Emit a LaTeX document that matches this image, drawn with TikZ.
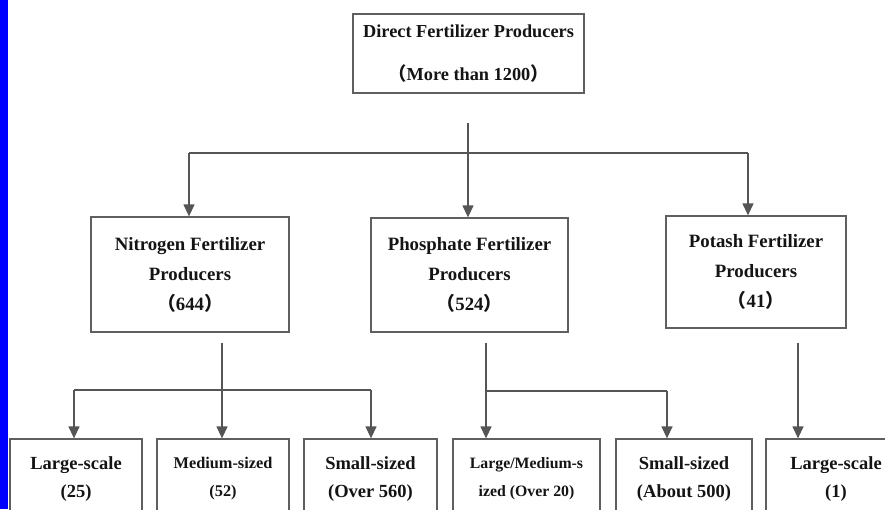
\documentclass[tikz,border=0pt]{standalone}
\usepackage{fontspec}
\setmainfont{Liberation Serif}
\newfontfamily\cjk{Noto Sans CJK SC}
\usetikzlibrary{arrows.meta}
\definecolor{boxc}{RGB}{95,95,95}
\definecolor{linec}{RGB}{85,85,85}
\definecolor{txtc}{RGB}{20,20,20}
\definecolor{stripc}{RGB}{0,0,255}
\tikzset{
  box/.style={draw=boxc, line width=1.3pt, rectangle, inner sep=0pt, align=center, text=txtc},
  topfont/.style={font=\bfseries\fontsize{18.3}{43}\selectfont},
  midfont/.style={font=\bfseries\fontsize{18.8}{30}\selectfont},
  lowfont/.style={font=\bfseries\fontsize{18.5}{28}\selectfont},
  smallfont/.style={font=\bfseries\fontsize{16.3}{28}\selectfont},
  tinyfont/.style={font=\bfseries\fontsize{15.8}{28}\selectfont},
  conn/.style={draw=linec, line width=1.3pt},
  arr/.style={conn, -{Triangle[width=11pt,length=12pt]}}
}
\newcommand{\lp}{{\cjk （}}
\newcommand{\rp}{{\cjk ）}}
\begin{document}
\begin{tikzpicture}[x=1pt,y=-1pt]
\useasboundingbox (0,0) rectangle (885,509);
\clip (0,0) rectangle (885,509);
\fill[white] (0,0) rectangle (885,509);
\fill[stripc] (0,0) rectangle (8,509);

% top
\node[box, topfont, minimum width=231pt, minimum height=79pt] (top) at (468.5,53.5)
  {Direct Fertilizer Producers\\\lp More than 1200\rp};

% middle
\node[box, midfont, minimum width=198pt, minimum height=115pt] (nit) at (190,274.5)
  {Nitrogen Fertilizer\\Producers\\\lp 644\rp};
\node[box, midfont, minimum width=197pt, minimum height=114pt] (pho) at (469.5,275)
  {Phosphate Fertilizer\\Producers\\\lp 524\rp};
\node[box, midfont, minimum width=180pt, minimum height=112pt] (pot) at (756,272)
  {Potash Fertilizer\\Producers\\\lp 41\rp};

% bottom
\node[box, lowfont, minimum width=132pt, minimum height=80pt] (b1) at (76,479)
  {Large-scale\\(25)};
\node[box, smallfont, minimum width=132pt, minimum height=80pt] (b2) at (223,479)
  {Medium-sized\\(52)};
\node[box, lowfont, minimum width=133pt, minimum height=80pt] (b3) at (370.5,479)
  {Small-sized\\(Over 560)};
\node[box, tinyfont, minimum width=147pt, minimum height=80pt] (b4) at (526.5,479)
  {Large/Medium-s\\ized (Over 20)};
\node[box, lowfont, minimum width=136pt, minimum height=80pt] (b5) at (684,479)
  {Small-sized\\(About 500)};
\node[box, lowfont, minimum width=140pt, minimum height=80pt] (b6) at (836,479)
  {Large-scale\\(1)};

% connectors top -> middle
\coordinate (t0) at (468,123);
\coordinate (tj) at (468,153);
\coordinate (tl) at (189,153);
\coordinate (tr) at (748,153);
\draw[conn] (t0) -- (tj);
\draw[conn] (tl) -- (tr);
\draw[arr] (tl) -- (tl |- nit.north);
\draw[arr] (tj) -- (tj |- pho.north);
\draw[arr] (tr) -- (tr |- pot.north);

% nitrogen -> bottom
\coordinate (n0) at (222,343);
\coordinate (nl) at (74,390);
\coordinate (nr) at (371,390);
\draw[conn] (nl) -- (nr);
\draw[arr] (n0) -- (n0 |- b2.north);
\draw[arr] (nl) -- (nl |- b1.north);
\draw[arr] (nr) -- (nr |- b3.north);

% phosphate -> bottom
\coordinate (p0) at (486,343);
\coordinate (pj) at (486,391);
\coordinate (pr) at (667,391);
\draw[conn] (pj) -- (pr);
\draw[arr] (p0) -- (p0 |- b4.north);
\draw[arr] (pr) -- (pr |- b5.north);

% potash -> bottom
\coordinate (k0) at (798,343);
\draw[arr] (k0) -- (k0 |- b6.north);
\end{tikzpicture}
\end{document}
